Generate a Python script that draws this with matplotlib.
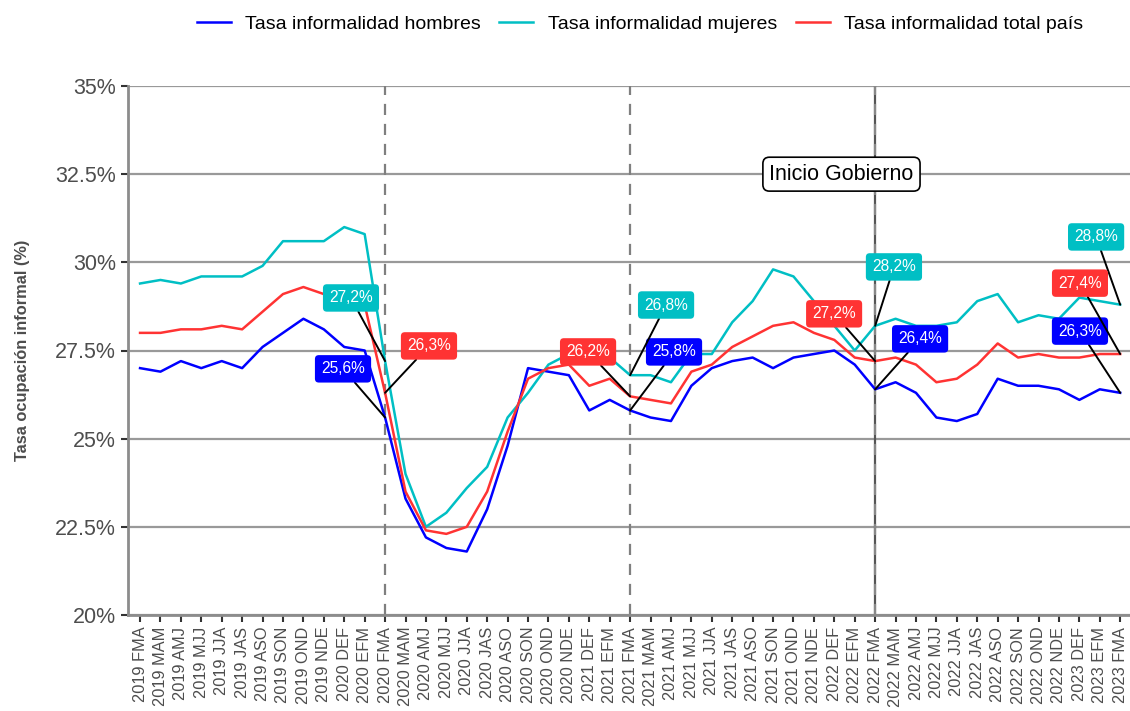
import matplotlib
matplotlib.use("Agg")
import matplotlib.pyplot as plt
import numpy as np

plt.rcParams['font.family'] = ['Liberation Sans', 'DejaVu Sans']

# periodos (trimestres moviles)
years_trim = [
    "2019 FMA", "2019 MAM", "2019 AMJ", "2019 MJJ", "2019 JJA", "2019 JAS", "2019 ASO",
    "2019 SON", "2019 OND", "2019 NDE", "2020 DEF", "2020 EFM",
    "2020 FMA", "2020 MAM", "2020 AMJ", "2020 MJJ", "2020 JJA", "2020 JAS", "2020 ASO",
    "2020 SON", "2020 OND", "2020 NDE", "2021 DEF", "2021 EFM",
    "2021 FMA", "2021 MAM", "2021 AMJ", "2021 MJJ", "2021 JJA", "2021 JAS", "2021 ASO",
    "2021 SON", "2021 OND", "2021 NDE", "2022 DEF", "2022 EFM",
    "2022 FMA", "2022 MAM", "2022 AMJ", "2022 MJJ", "2022 JJA", "2022 JAS", "2022 ASO",
    "2022 SON", "2022 OND", "2022 NDE", "2023 DEF", "2023 EFM", "2023 FMA",
]

hombres = [27.0, 26.9, 27.2, 27.0, 27.2, 27.0, 27.6, 28.0, 28.4, 28.1, 27.6, 27.5,
           25.6, 23.3, 22.2, 21.9, 21.8, 23.0, 24.8, 27.0, 26.9, 26.8, 25.8, 26.1,
           25.8, 25.6, 25.5, 26.5, 27.0, 27.2, 27.3, 27.0, 27.3, 27.4, 27.5, 27.1,
           26.4, 26.6, 26.3, 25.6, 25.5, 25.7, 26.7, 26.5, 26.5, 26.4, 26.1, 26.4, 26.3]

mujeres = [29.4, 29.5, 29.4, 29.6, 29.6, 29.6, 29.9, 30.6, 30.6, 30.6, 31.0, 30.8,
           27.2, 24.0, 22.5, 22.9, 23.6, 24.2, 25.6, 26.3, 27.1, 27.4, 27.5, 27.3,
           26.8, 26.8, 26.6, 27.4, 27.4, 28.3, 28.9, 29.8, 29.6, 28.9, 28.2, 27.5,
           28.2, 28.4, 28.2, 28.2, 28.3, 28.9, 29.1, 28.3, 28.5, 28.4, 29.0, 28.9, 28.8]

total = [28.0, 28.0, 28.1, 28.1, 28.2, 28.1, 28.6, 29.1, 29.3, 29.1, 29.0, 28.8,
         26.3, 23.5, 22.4, 22.3, 22.5, 23.5, 25.2, 26.7, 27.0, 27.1, 26.5, 26.7,
         26.2, 26.1, 26.0, 26.9, 27.1, 27.6, 27.9, 28.2, 28.3, 28.0, 27.8, 27.3,
         27.2, 27.3, 27.1, 26.6, 26.7, 27.1, 27.7, 27.3, 27.4, 27.3, 27.3, 27.4, 27.4]

series_names = ["Tasa informalidad hombres", "Tasa informalidad mujeres",
                "Tasa informalidad total país"]
yticks = [20, 22.5, 25, 27.5, 30, 32.5, 35]
ytick_labels = ["20%", "22.5%", "25%", "27.5%", "30%", "32.5%", "35%"]
label_idx = [12, 24, 36, 48]   # periodos FMA etiquetados

c_h = "#0000FF"
c_m = "#00BFC4"
c_t = "#FF3333"

fig = plt.figure(figsize=(11.3, 7.11), dpi=100)
ax = fig.add_axes([128 / 1130, 1 - 615 / 711, 1 - 128 / 1130, (615 - 86) / 711])

x = np.arange(len(years_trim))

ax.set_ylim(20, 35)
ax.set_xlim(-0.59, 48.48)
ax.set_yticks(yticks)
ax.set_yticklabels(ytick_labels)
for yv in yticks:
    ax.axhline(yv, color="#999999", lw=1.6, zorder=1)

# lineas verticales
for xv in [12, 24]:
    ax.axvline(xv, color="#7f7f7f", lw=1.6, ls=(0, (5, 4)), zorder=2)
ax.axvline(36, color="#555555", lw=1.6, zorder=2)
ax.axvline(36, color="#888888", lw=1.6, ls=(0, (5, 4)), zorder=2)

series = [(hombres, c_h), (mujeres, c_m), (total, c_t)]
for (vals, col), name in zip(series, series_names):
    ax.plot(x, vals, color=col, lw=1.8, label=name, zorder=3)

# posiciones de las etiquetas (x en periodos, y en %)
label_pos = {
    c_h: [(9.94, 26.98), (26.15, 27.46), (38.2, 27.83), (46.03, 28.05)],
    c_m: [(10.33, 28.99), (25.76, 28.79), (36.92, 29.87), (46.82, 30.72)],
    c_t: [(14.15, 27.63), (21.94, 27.46), (33.99, 28.54), (46.03, 29.41)],
}
for vals, col in series:
    for i, pos in zip(label_idx, label_pos[col]):
        ax.annotate(f"{vals[i]:.1f}%".replace(".", ","), xy=(i, vals[i]), xytext=pos,
                    ha="center", va="center", color="white", fontsize=11.2,
                    bbox=dict(boxstyle="round,pad=0.4,rounding_size=0.25", fc=col, ec="none"),
                    arrowprops=dict(arrowstyle="-", color="black", lw=1.4,
                                    shrinkA=0, shrinkB=0),
                    zorder=5)

ax.text(34.35, 32.5, "Inicio Gobierno", ha="center", va="center", fontsize=15.5,
        color="black", zorder=6,
        bbox=dict(boxstyle="round,pad=0.3,rounding_size=0.3", fc="white", ec="black", lw=1.2))

ax.set_xticks(x)
ax.set_xticklabels(years_trim, rotation=90, fontsize=11.8, color="#4d4d4d")
ax.tick_params(axis="y", labelsize=15.5, labelcolor="#4d4d4d", color="#333333",
               length=5, width=1.5)
ax.tick_params(axis="x", color="#333333", length=5, width=1.5)
ax.set_ylabel("Tasa ocupación informal (%)", fontsize=11.8, fontweight="bold",
              color="#4d4d4d", labelpad=18)

for s in ["top", "right"]:
    ax.spines[s].set_visible(False)
for s in ["left", "bottom"]:
    ax.spines[s].set_color("#8c8c8c")
    ax.spines[s].set_linewidth(2)

fig.legend(loc="center", bbox_to_anchor=(640 / 1130, 1 - 24 / 711), ncol=3,
           frameon=False, fontsize=14.0, handlelength=1.75, handletextpad=0.75,
           columnspacing=0.95)

fig.savefig("out.png", dpi=100)
